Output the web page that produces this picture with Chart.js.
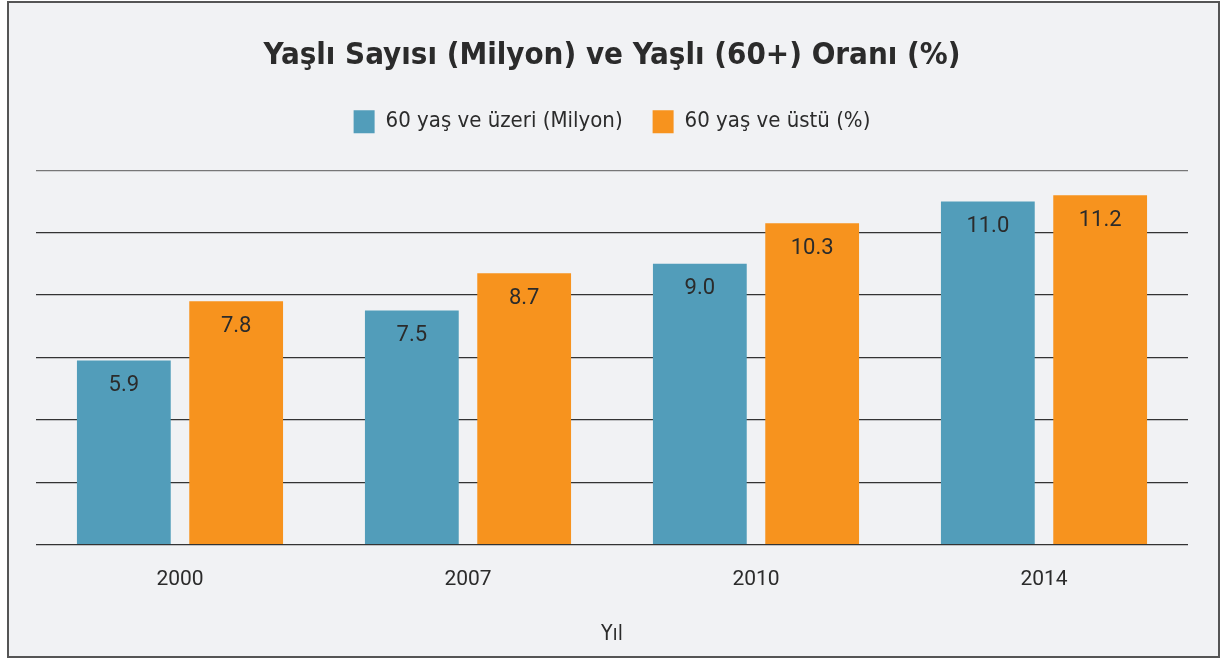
<!DOCTYPE html>
<html>
<head>
<meta charset="utf-8">
<script src="https://cdn.jsdelivr.net/npm/chart.js@4"></script>
<style>
  body { margin: 0; background: #fff; }
  #kutu {
    position: absolute; left: 7px; top: 1px;
    width: 1209px; height: 653px;
    border: 2px solid #555; background: #f1f2f4;
  }
</style>
</head>
<body>
<div id="kutu"><canvas id="grafico" width="1209" height="653"></canvas></div>
<script>
var yillar = ['2000', '2007', '2010', '2014'];
var yasliSayisi = [5.9, 7.5, 9.0, 11.0];
var yasliOrani = [7.8, 8.7, 10.3, 11.2];
var yEksenMax = 12;
var yEksenAdim = 2;

var yaziFont = "'DejaVu Sans Condensed', 'Liberation Sans Narrow', Roboto, sans-serif";

// bar etiketleri (datalabels yok)
var etiketler = {
	id: 'etiketler',
	afterInit: function(chart) {
		// legend ile grafik arasi bosluk
		var eskiFit = chart.legend.fit;
		chart.legend.fit = function() {
			eskiFit.call(this);
			this.height += 27;
		};
	},
	afterDatasetsDraw: function(chart) {
		var ctx = chart.ctx;
		ctx.save();
		ctx.font = '22px Roboto';
		ctx.fillStyle = '#2b2b2b';
		ctx.textAlign = 'center';
		ctx.textBaseline = 'middle';
		chart.data.datasets.forEach(function(ds, i) {
			chart.getDatasetMeta(i).data.forEach(function(bar, j) {
				ctx.fillText(ds.data[j].toFixed(1), bar.x, bar.y + 25);
			});
		});
		ctx.restore();
	}
};

var canvas = document.getElementById('grafico');

var grafico = new Chart(canvas, {
	type: 'bar',
	data: {
		labels: yillar,
		datasets: [{
			label: '60 yaş ve üzeri (Milyon)',
			data: yasliSayisi,
			backgroundColor: '#529dba'
		}, {
			label: '60 yaş ve üstü (%)',
			data: yasliOrani,
			backgroundColor: '#f7931e'
		}]
	},
	plugins: [etiketler],
	options: {
		responsive: false,
		animation: false,
		categoryPercentage: 0.78,
		barPercentage: 0.835,
		layout: {
			padding: { left: 27, right: 30, bottom: 5 }
		},
		plugins: {
			title: {
				display: true,
				text: 'Yaşlı Sayısı (Milyon) ve Yaşlı (60+) Oranı (%)',
				color: '#2b2b2b',
				font: { family: yaziFont, size: 31, weight: 'bold' },
				padding: { top: 34, bottom: 6 }
			},
			legend: {
				labels: {
					color: '#2b2b2b',
					font: { family: yaziFont, size: 22 },
					boxWidth: 21,
					boxHeight: 23,
					padding: 30
				}
			},
			tooltip: { enabled: false }
		},
		scales: {
			y: {
				min: 0,
				max: yEksenMax,
				ticks: { display: false, stepSize: yEksenAdim },
				border: { display: false },
				grid: {
					color: function(c) { return c.tick && c.tick.value === yEksenMax ? '#777' : '#333'; },
					lineWidth: 1.3,
					drawTicks: false
				}
			},
			x: {
				ticks: {
					color: '#2b2b2b',
					font: { family: 'Roboto', size: 21 },
					padding: 15
				},
				border: { display: false },
				grid: { display: false },
				title: {
					display: true,
					text: 'Yıl',
					color: '#2b2b2b',
					font: { family: yaziFont, size: 21 },
					padding: { top: 14 }
				}
			}
		}
	}
});
</script>
</body>
</html>
